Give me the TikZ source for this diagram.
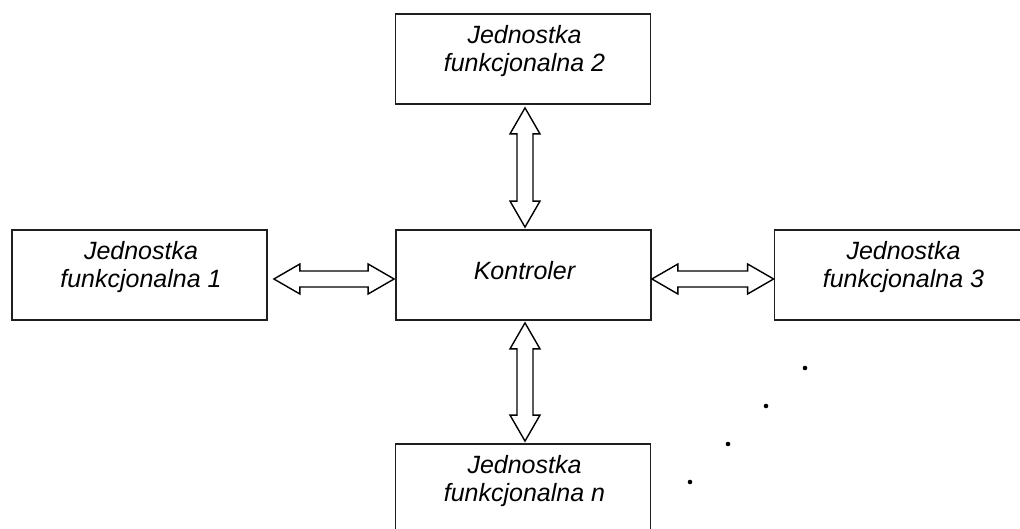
\documentclass[tikz,border=0pt]{standalone}
\usepackage{fontspec}
\setmainfont{Liberation Sans}
\usetikzlibrary{calc}

\tikzset{
  unit/.style={draw=black!88, line width=1.8pt, minimum width=255pt, minimum height=90pt,
               inner sep=0pt, fill=white},
  lbl/.style={inner sep=0pt, align=center, font=\fontsize{25}{28.5}\selectfont\itshape},
  % hollow double-headed block arrow between two points
  hollow/.style={draw=black, line width=1.4pt, line join=miter, fill=white,
    to path={
      -- ($(\tikztostart)!26pt!(\tikztotarget)!15pt!90:(\tikztotarget)$)
      -- ($(\tikztostart)!26pt!(\tikztotarget)!8pt!90:(\tikztotarget)$)
      -- ($(\tikztotarget)!26pt!(\tikztostart)!8pt!-90:(\tikztostart)$)
      -- ($(\tikztotarget)!26pt!(\tikztostart)!15pt!-90:(\tikztostart)$)
      -- (\tikztotarget)
      -- ($(\tikztotarget)!26pt!(\tikztostart)!15pt!90:(\tikztostart)$)
      -- ($(\tikztotarget)!26pt!(\tikztostart)!8pt!90:(\tikztostart)$)
      -- ($(\tikztostart)!26pt!(\tikztotarget)!8pt!-90:(\tikztotarget)$)
      -- ($(\tikztostart)!26pt!(\tikztotarget)!15pt!-90:(\tikztotarget)$)
      -- cycle}},
  dotmark/.style={fill=black}
}

\begin{document}
\begin{tikzpicture}[x=1pt,y=1pt]
  \fill[white] (0,0) rectangle (1020,529);
  \useasboundingbox (0,0) rectangle (1020,529);

  % blocks
  \node[unit] (ctrl) at (523.5,254) {};
  \node[unit] (u2)   at (523,470)   {};
  \node[unit] (u1)   at (139.5,254) {};
  \node[unit] (u3)   at (902,254)   {};
  \node[unit] (un)   at (523,40)    {};

  % block captions
  \node[lbl, anchor=base] (tctrl) at ($(ctrl.north)+(1,-50)$) {Kontroler};
  \node[lbl, anchor=north] (t2) at ($(u2.north)+(1.5,-12)$) {Jednostka\\funkcjonalna 2};
  \node[lbl, anchor=north] (t1) at ($(u1.north)+(1.5,-12)$) {Jednostka\\funkcjonalna 1};
  \node[lbl, anchor=north] (t3) at ($(u3.north)+(1.5,-12)$) {Jednostka\\funkcjonalna 3};
  \node[lbl, anchor=north] (tn) at ($(un.north)+(1.5,-12)$) {Jednostka\\funkcjonalna \textit{n}};

  % arrow end points next to the blocks
  \coordinate (a2s) at ($(u2.south)+(2,-3)$);
  \coordinate (a2e) at ($(ctrl.north)+(1.5,2)$);
  \coordinate (ans) at ($(ctrl.south)+(1.5,-2)$);
  \coordinate (ane) at ($(un.north)+(2,2)$);
  \coordinate (a1s) at ($(u1.east)+(6,-4)$);
  \coordinate (a1e) at ($(ctrl.west)+(-1,-4)$);
  \coordinate (a3s) at ($(ctrl.east)+(0,-4)$);
  \coordinate (a3e) at ($(u3.west)+(0,-4)$);

  % bidirectional links
  \draw[hollow] (a2s) to (a2e);
  \draw[hollow] (ans) to (ane);
  \draw[hollow] (a1s) to (a1e);
  \draw[hollow] (a3s) to (a3e);

  % ellipsis towards further units
  \foreach \p in {(805,161),(766,123),(728,85),(690,47)}
    \fill[dotmark] \p circle (2.3);
\end{tikzpicture}
\end{document}
